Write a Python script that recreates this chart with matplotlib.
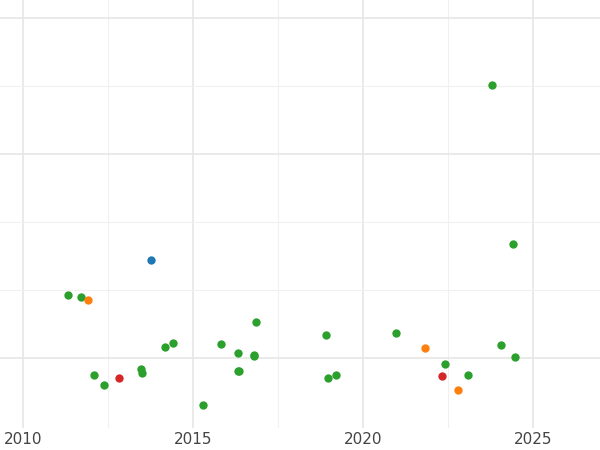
import matplotlib
matplotlib.use('Agg')
import matplotlib.pyplot as plt

# Data
green_x = [2011.32, 2011.71, 2012.09, 2012.38, 2013.47, 2013.50, 2014.18, 2014.41, 2015.29,
           2015.82, 2016.32, 2016.32, 2016.35, 2016.79, 2016.79, 2016.85, 2018.91, 2018.97,
           2019.21, 2020.97, 2022.41, 2023.09, 2023.79, 2024.06, 2024.41, 2024.47]
green_y = [0.93, 0.90, -0.25, -0.40, -0.16, -0.22, 0.16, 0.22, -0.69,
           0.21, 0.07, -0.19, -0.19, 0.04, 0.03, 0.53, 0.34, -0.29,
           -0.25, 0.37, -0.09, -0.25, 4.01, 0.19, 1.68, 0.01]
orange_x = [2011.91, 2021.82, 2022.79]
orange_y = [0.85, 0.15, -0.47]
red_x = [2012.82, 2022.32]
red_y = [-0.29, -0.26]
blue_x = [2013.76]
blue_y = [1.44]

fig = plt.figure(figsize=(6, 4.5), dpi=100)
ax = fig.add_axes([0, 0.049, 1, 0.951])

for xs, ys, c in [(green_x, green_y, '#2ca02c'), (orange_x, orange_y, '#ff7f0e'),
                  (red_x, red_y, '#d62728'), (blue_x, blue_y, '#1f77b4')]:
    ax.scatter(xs, ys, s=36, color=c, zorder=3, linewidths=0)

ax.set_xlim(2009.32, 2026.97)
ax.set_ylim(-1.03, 5.26)
ax.set_xticks([2010, 2015, 2020, 2025])
ax.set_xticks([2012.5, 2017.5, 2022.5], minor=True)
ax.set_yticks([0, 3, 5])
ax.set_yticks([1, 2, 4], minor=True)
ax.grid(which='major', color='#e6e6e6', linewidth=1.2)
ax.grid(which='minor', color='#f0f0f0', linewidth=0.8)
ax.tick_params(which='both', length=0, labelleft=False)
ax.tick_params(axis='x', labelsize=11, colors='#444444', pad=3)
for s in ax.spines.values():
    s.set_visible(False)

fig.savefig('out.png', dpi=100)
